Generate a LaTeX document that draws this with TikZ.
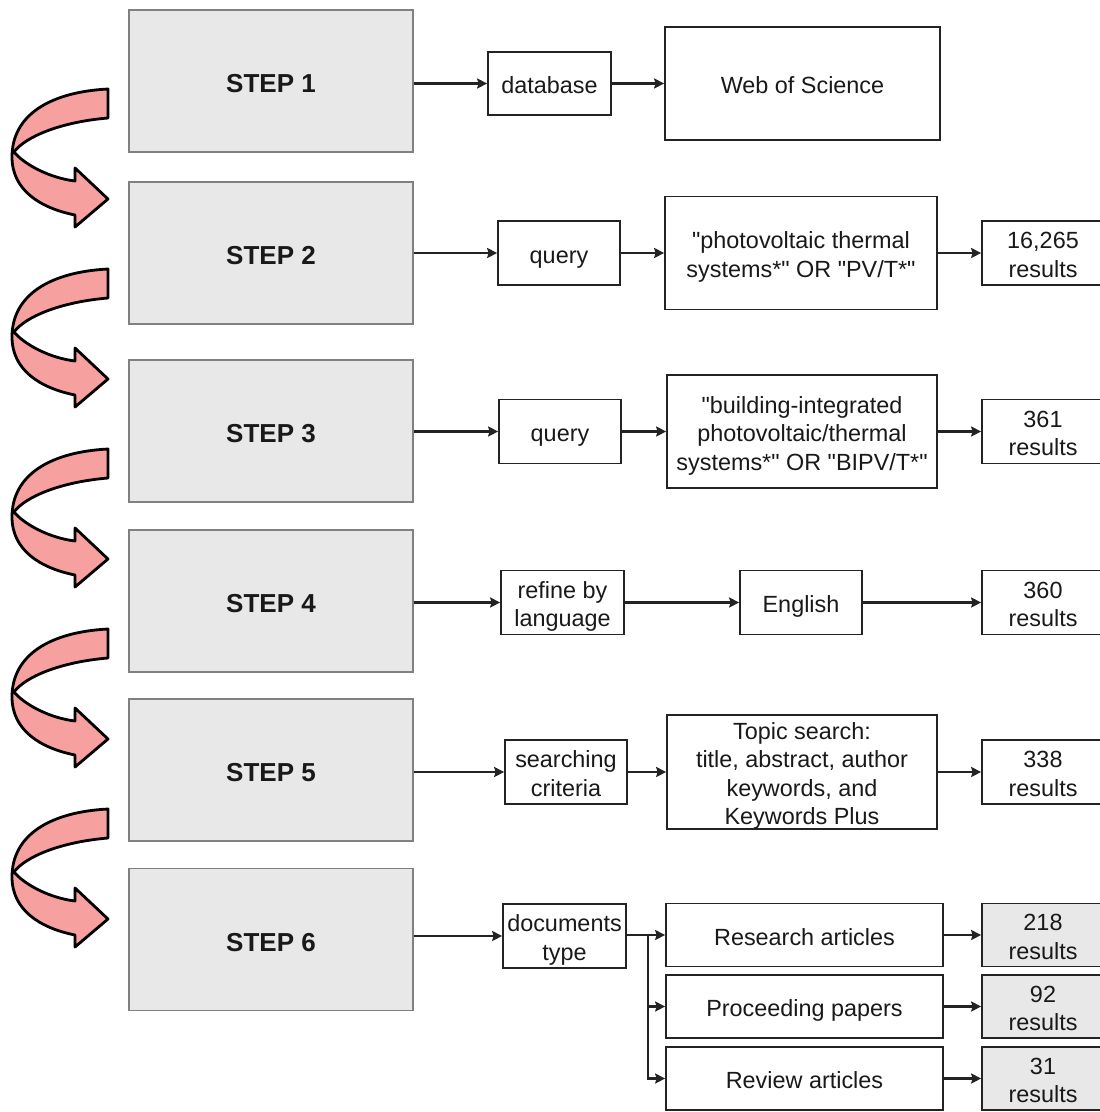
\documentclass[tikz,border=0pt]{standalone}
\usepackage{fontspec}
\setmainfont{Liberation Sans}
\newfontfamily\lsans{Liberation Sans}
\usetikzlibrary{arrows.meta}
\definecolor{stepfill}{RGB}{232,232,232}
\definecolor{stepline}{RGB}{128,128,128}
\definecolor{boxline}{RGB}{35,35,35}
\definecolor{curlfill}{RGB}{247,160,160}
\definecolor{txt}{RGB}{25,25,25}
\newcommand\tx[1]{\raisebox{-4.5pt}[\height][\depth]{\begin{tabular}{@{}c@{}}#1\end{tabular}}}
\tikzset{
  stepbox/.style={draw=stepline, line width=1.2pt, fill=stepfill, minimum width=284pt, minimum height=142pt, inner sep=0pt, text height=23pt, text depth=0pt, font=\lsans\fontsize{26}{30}\selectfont\bfseries, text=txt},
  smallbox/.style={draw=boxline, line width=1.7pt, fill=white, minimum width=122pt, minimum height=64pt, inner sep=0pt, font=\lsans\fontsize{23.4}{28.4}\selectfont, text=txt},
  bigbox/.style={smallbox, minimum width=272pt, minimum height=113pt},
  docbox/.style={smallbox, minimum width=277pt, minimum height=63pt},
  resbox/.style={smallbox},
  resgray/.style={smallbox, fill=stepfill, minimum height=63pt},
  arr/.style={line width=2.4pt, draw=boxline, -{Stealth[length=10pt,width=10pt,inset=1.5pt]}},
  conn/.style={line width=2.4pt, draw=boxline},
  curl/.style={draw=black, line width=2.8pt, fill=curlfill, line join=round}
}
\begin{document}
\begin{tikzpicture}[x=1pt,y=-1pt]
\useasboundingbox (0,0) rectangle (1100,1112);
\clip (0,0) rectangle (1100,1112);
\fill[white] (0,0) rectangle (1100,1112);

% curved arrows
\foreach \o in {0,180,360,540,720}{
  \path[curl, shift={(0,\o)}]
    (108,89) .. controls (50,92) and (12,115) .. (12,157)
    .. controls (12,190) and (40,208) .. (75,215)
    -- (75,227) -- (108,199) -- (75,168) -- (75,181)
    .. controls (50,178) and (25,165) .. (14,152)
    .. controls (25,137) and (60,122) .. (108,118) -- cycle;
}

% step boxes
\node[stepbox] (s1) at (271,81) {STEP 1};
\node[stepbox] (s2) at (271,253) {STEP 2};
\node[stepbox] (s3) at (271,431) {STEP 3};
\node[stepbox] (s4) at (271,601) {STEP 4};
\node[stepbox] (s5) at (271,770) {STEP 5};
\node[stepbox] (s6) at (271,939.5) {STEP 6};

% row 1
\node[smallbox, minimum width=123pt, minimum height=63pt] (db) at (549.5,83.5) {\tx{database}};
\node[bigbox, minimum width=275pt] (wos) at (802.5,83.5) {\tx{Web of Science}};
\draw[arr] (s1.east |- db.west) -- (db.west);
\draw[arr] (db.east) -- (wos.west);

% row 2
\node[smallbox] (q2) at (559,253) {\tx{query}};
\node[bigbox] (pv) at (801,253) {\tx{"photovoltaic thermal\\systems*" OR "PV/T*"}};
\node[resbox] (r2) at (1043,253) {\tx{16,265\\results}};
\draw[arr] (s2.east |- q2.west) -- (q2.west);
\draw[arr] (q2.east) -- (pv.west);
\draw[arr] (pv.east) -- (r2.west);

% row 3
\node[smallbox] (q3) at (560,431.5) {\tx{query}};
\node[bigbox, minimum width=270pt] (bipv) at (802,431.5) {\tx{"building-integrated\\photovoltaic/thermal\\systems*" OR "BIPV/T*"}};
\node[resbox] (r3) at (1043,431.5) {\tx{361\\results}};
\draw[arr] (s3.east |- q3.west) -- (q3.west);
\draw[arr] (q3.east) -- (bipv.west);
\draw[arr] (bipv.east) -- (r3.west);

% row 4
\node[smallbox, minimum width=123pt] (ref) at (562.5,602.5) {\tx{refine by\\language}};
\node[smallbox] (eng) at (801,602.5) {\tx{English}};
\node[resbox] (r4) at (1043,602.5) {\tx{360\\results}};
\draw[arr] (s4.east |- ref.west) -- (ref.west);
\draw[arr] (ref.east) -- (eng.west);
\draw[arr] (eng.east) -- (r4.west);

% row 5
\node[smallbox] (sc) at (566,772) {\tx{searching\\criteria}};
\node[bigbox, minimum width=270pt] (topic) at (802,772) {\tx{Topic search:\\title, abstract, author\\keywords, and\\Keywords Plus}};
\node[resbox] (r5) at (1043,772) {\tx{338\\results}};
\draw[arr] (s5.east |- sc.west) -- (sc.west);
\draw[arr] (sc.east) -- (topic.west);
\draw[arr] (topic.east) -- (r5.west);

% row 6
\node[smallbox, minimum width=123pt] (doc) at (564.5,936) {\tx{documents\\type}};
\node[docbox] (ra) at (804.5,935) {\tx{Research articles}};
\node[docbox] (pp) at (804.5,1006.5) {\tx{Proceeding papers}};
\node[docbox] (rv) at (804.5,1078.5) {\tx{Review articles}};
\node[resgray] (r6a) at (1043,935) {\tx{218\\results}};
\node[resgray] (r6b) at (1043,1006.5) {\tx{92\\results}};
\node[resgray] (r6c) at (1043,1078.5) {\tx{31\\results}};
\coordinate (br) at (648,935);
\draw[arr] (s6.east |- doc.west) -- (doc.west);
\draw[conn] (doc.east |- br) -- (br);
\draw[arr] (br) -- (ra.west);
\draw[arr] (br) |- (pp.west);
\draw[arr] (br) |- (rv.west);
\draw[arr] (ra.east) -- (r6a.west);
\draw[arr] (pp.east) -- (r6b.west);
\draw[arr] (rv.east) -- (r6c.west);
\end{tikzpicture}
\end{document}
